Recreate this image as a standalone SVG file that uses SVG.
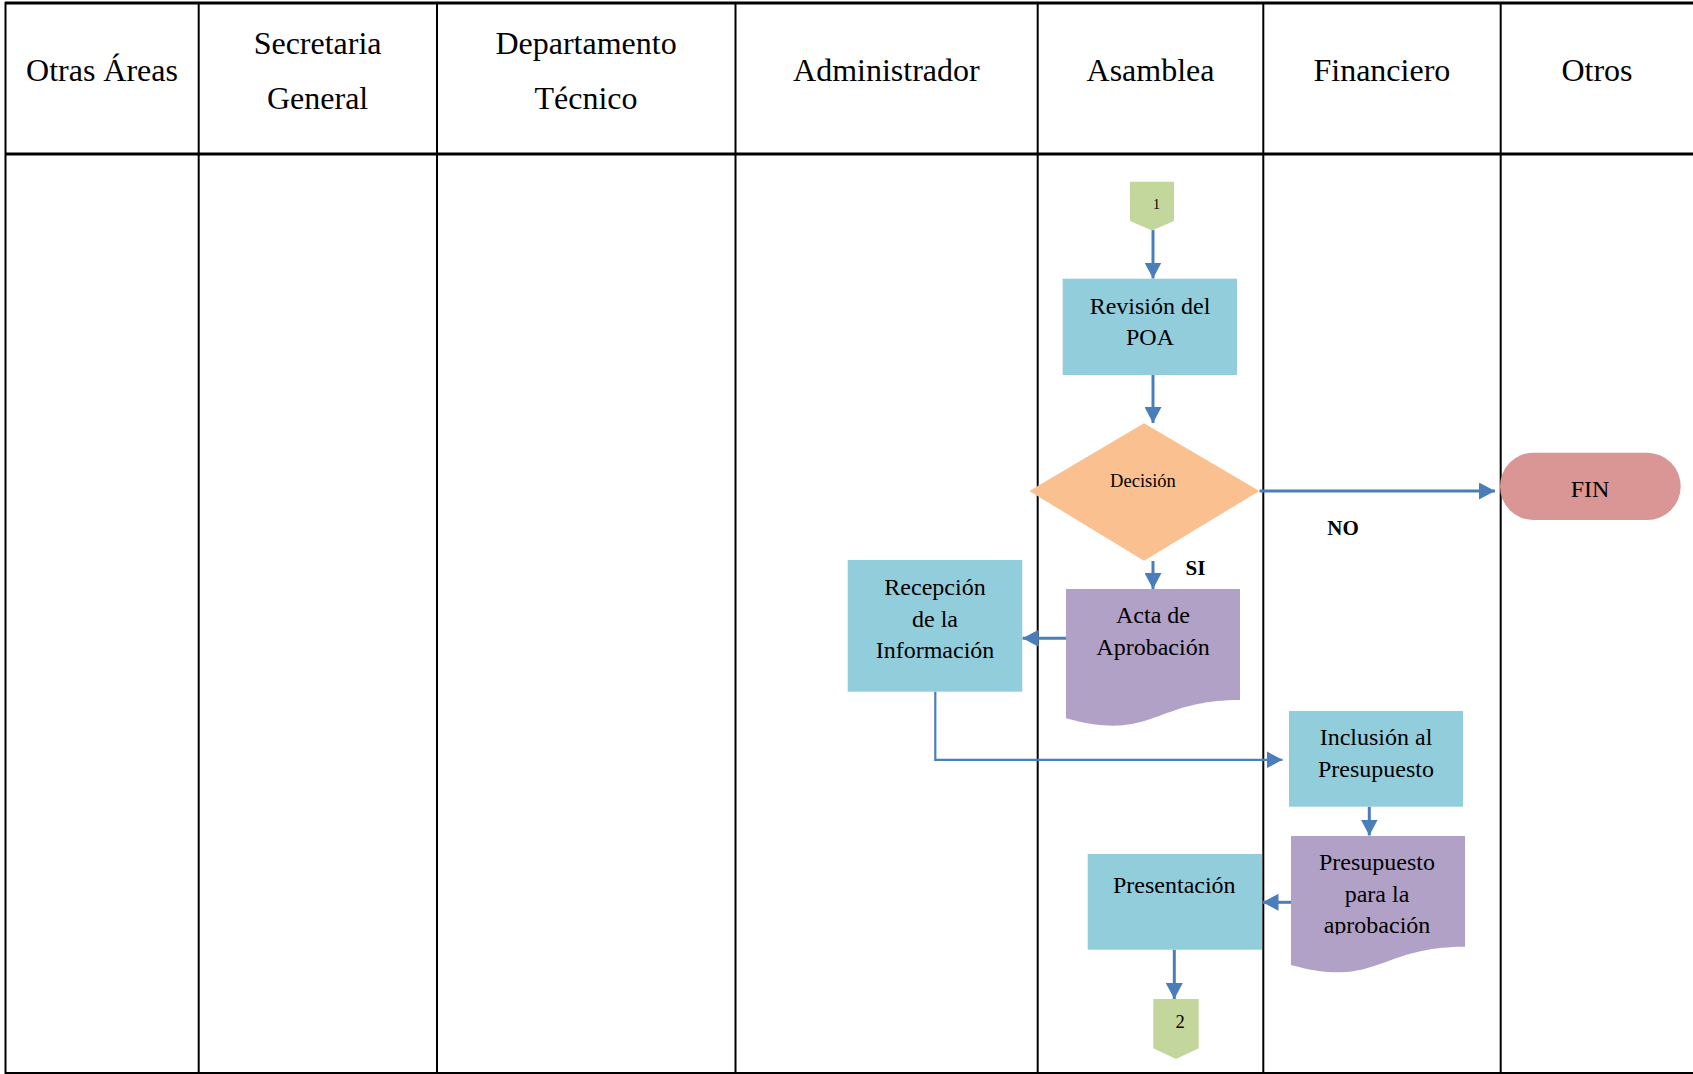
<svg xmlns="http://www.w3.org/2000/svg" width="1693" height="1074" viewBox="0 0 1693 1074">
  <style>
    .grid { stroke: #000; stroke-width: 2; fill: none; }
    .gridb { stroke: #000; stroke-width: 3; fill: none; }
    .hdr { font-family: "Liberation Serif", "Times New Roman", serif; font-size: 32px; fill: #000; text-anchor: middle; }
    .lbl { font-family: "Liberation Serif", "Times New Roman", serif; font-size: 24px; fill: #000; text-anchor: middle; }
    .small { font-family: "Liberation Serif", "Times New Roman", serif; font-size: 18.5px; fill: #000; text-anchor: middle; }
    .bold { font-family: "Liberation Serif", "Times New Roman", serif; font-size: 21px; font-weight: bold; fill: #000; text-anchor: middle; }
    .proc { fill: #92CDDC; }
    .doc { fill: #B2A1C7; }
    .dec { fill: #FAC090; }
    .term { fill: #D99694; }
    .ref { fill: #C3D69B; }
    .flow { stroke: #4A7EBB; stroke-width: 3; fill: none; marker-end: url(#arrow); }
    .flow.thin { stroke-width: 2.2; }
  </style>
  <defs>
    <marker id="arrow" markerUnits="userSpaceOnUse" markerWidth="16" markerHeight="17" refX="16" refY="8.5" orient="auto">
      <path d="M0,0 L16,8.5 L0,17 Z" fill="#4A7EBB"/>
    </marker>
    <clipPath id="clipPres">
      <rect x="1291" y="836" width="174" height="98.5"/>
    </clipPath>
  </defs>

  <rect x="0" y="0" width="1693" height="1074" fill="#fff"/>

  <!-- swimlane table -->
  <g id="lanes">
    <line class="gridb" x1="5" y1="3" x2="1693" y2="3"/>
    <line class="gridb" x1="5" y1="154" x2="1693" y2="154"/>
    <line class="grid" x1="5" y1="1073" x2="1693" y2="1073"/>
    <line class="grid" x1="5.5" y1="2" x2="5.5" y2="1074"/>
    <line class="grid" x1="198.7" y1="2" x2="198.7" y2="1074"/>
    <line class="grid" x1="437" y1="2" x2="437" y2="1074"/>
    <line class="grid" x1="735.5" y1="2" x2="735.5" y2="1074"/>
    <line class="grid" x1="1037.7" y1="2" x2="1037.7" y2="1074"/>
    <line class="grid" x1="1263.3" y1="2" x2="1263.3" y2="1074"/>
    <line class="grid" x1="1500.7" y1="2" x2="1500.7" y2="1074"/>
    <text class="hdr" x="102" y="81">Otras Áreas</text>
    <text class="hdr" x="317.6" y="54">Secretaria</text>
    <text class="hdr" x="317.6" y="109">General</text>
    <text class="hdr" x="586" y="54">Departamento</text>
    <text class="hdr" x="586" y="109">Técnico</text>
    <text class="hdr" x="886.4" y="81">Administrador</text>
    <text class="hdr" x="1150.5" y="81">Asamblea</text>
    <text class="hdr" x="1381.9" y="81">Financiero</text>
    <text class="hdr" x="1597" y="81">Otros</text>
  </g>

  <!-- connectors -->
  <g id="connectors">
    <line class="flow" x1="1153" y1="230" x2="1153" y2="278.5"/>
    <line class="flow" x1="1153" y1="375" x2="1153" y2="423"/>
    <line class="flow" x1="1259.5" y1="491" x2="1495" y2="491"/>
    <line class="flow" x1="1153" y1="561" x2="1153" y2="589"/>
    <line class="flow" x1="1066" y1="638.3" x2="1022.5" y2="638.3"/>
    <polyline class="flow thin" points="935.3,691.7 935.3,759.8 1282.5,759.8"/>
    <line class="flow" x1="1369.3" y1="806.7" x2="1369.3" y2="835.5"/>
    <line class="flow" x1="1291" y1="902.3" x2="1262.5" y2="902.3"/>
    <line class="flow" x1="1174.3" y1="949.7" x2="1174.3" y2="999"/>
    <text class="bold" x="1195.5" y="575">SI</text>
    <text class="bold" x="1343" y="535">NO</text>
  </g>

  <!-- nodes -->
  <g id="ref1">
    <polygon class="ref" points="1130,181.7 1174,181.7 1174,221 1152,230.5 1130,221"/>
    <text class="small" x="1156.5" y="209" style="font-size:14px">1</text>
  </g>

  <g id="revision-poa">
    <rect class="proc" x="1062.7" y="278.7" width="174.3" height="96.3"/>
    <text class="lbl" x="1150" y="314">Revisión del</text>
    <text class="lbl" x="1150" y="345">POA</text>
  </g>

  <g id="decision">
    <polygon class="dec" points="1144,423.3 1259.3,491 1144,560.7 1029.3,491"/>
    <text class="small" x="1143" y="486.5">Decisión</text>
  </g>

  <g id="fin">
    <rect class="term" x="1500" y="452.7" width="180.7" height="67.3" rx="33.6" ry="33.6"/>
    <text class="lbl" x="1590" y="497">FIN</text>
  </g>

  <g id="acta-aprobacion">
    <path class="doc" d="M1066,589 H1240 V700 C1153,700 1153,742.3 1066,718.3 Z"/>
    <text class="lbl" x="1153" y="623.3">Acta de</text>
    <text class="lbl" x="1153" y="655">Aprobación</text>
  </g>

  <g id="recepcion-informacion">
    <rect class="proc" x="847.7" y="560" width="174.6" height="131.7"/>
    <text class="lbl" x="935" y="595">Recepción</text>
    <text class="lbl" x="935" y="626.7">de la</text>
    <text class="lbl" x="935" y="658.3">Información</text>
  </g>

  <g id="inclusion-presupuesto">
    <rect class="proc" x="1289" y="711" width="174" height="95.7"/>
    <text class="lbl" x="1376" y="745">Inclusión al</text>
    <text class="lbl" x="1376" y="776.7">Presupuesto</text>
  </g>

  <g id="presupuesto-aprobacion">
    <path class="doc" d="M1291,836 H1465 V946.7 C1378,946.7 1378,988.8 1291,964.9 Z"/>
    <g clip-path="url(#clipPres)">
      <text class="lbl" x="1377" y="870">Presupuesto</text>
      <text class="lbl" x="1377" y="901.7">para la</text>
      <text class="lbl" x="1377" y="933.3">aprobación</text>
    </g>
  </g>

  <g id="presentacion">
    <rect class="proc" x="1087.7" y="854" width="174.3" height="95.7"/>
    <text class="lbl" x="1174.3" y="893.3">Presentación</text>
  </g>

  <g id="ref2">
    <polygon class="ref" points="1153.3,999 1198.7,999 1198.7,1048.3 1176,1059 1153.3,1048.3"/>
    <text class="small" x="1180" y="1028.3">2</text>
  </g>
</svg>
